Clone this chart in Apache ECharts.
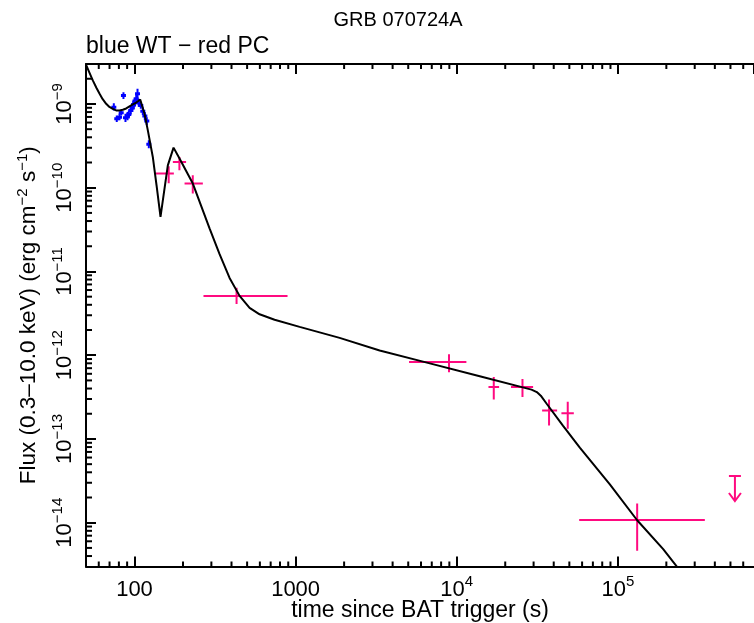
<!DOCTYPE html>
<html>
<head>
<meta charset="utf-8">
<script src="https://cdn.jsdelivr.net/npm/echarts@6/dist/echarts.min.js"></script>
<style>
  html, body { margin: 0; padding: 0; background: #fff; }
  #chart { width: 754px; height: 623px; }
</style>
</head>
<body>
<div id="chart"></div>
<script>
// WT mode points (blue): time (s), flux and its error range (erg cm^-2 s^-1)
const wtTime = [74.4, 77.6, 80.7, 82.7, 85.4, 87.9, 90.5, 92.2, 94.8, 96.8, 98.6, 100.4, 102.5, 104.4, 106.3, 109.4, 112.6, 115.9, 119.2, 122.7];
const wtFlux = [9.16e-10, 6.67e-10, 6.96e-10, 7.86e-10, 1.26e-9, 6.86e-10, 7.16e-10, 7.50e-10, 8.37e-10, 9.01e-10, 9.86e-10, 1.05e-9, 1.15e-9, 1.32e-9, 1.03e-9, 9.60e-10, 8.21e-10, 7.16e-10, 6.24e-10, 3.30e-10];
const wtFluxLo = [8.37e-10, 6.07e-10, 6.37e-10, 7.30e-10, 1.15e-9, 6.07e-10, 6.41e-10, 6.72e-10, 7.50e-10, 8.07e-10, 8.60e-10, 9.26e-10, 1.02e-9, 1.15e-9, 9.26e-10, 8.77e-10, 7.36e-10, 6.41e-10, 5.60e-10, 2.95e-10];
const wtFluxHi = [1.02e-9, 7.30e-10, 7.64e-10, 8.37e-10, 1.38e-9, 7.64e-10, 7.99e-10, 8.37e-10, 9.34e-10, 1.005e-9, 1.13e-9, 1.195e-9, 1.30e-9, 1.52e-9, 1.15e-9, 1.05e-9, 9.16e-10, 7.99e-10, 6.96e-10, 3.68e-10];

// PC mode points (magenta)
const pcTime = [163, 190, 230, 430, 8954, 16980, 25590, 37410, 48870, 131800];
const pcTimeLo = [135, 173, 204.5, 268, 5058, 15740, 21720, 33880, 44650, 57540];
const pcTimeHi = [175.5, 209, 265.6, 891, 11480, 18320, 29790, 41980, 53300, 346700];
const pcFlux = [1.48e-10, 2.03e-10, 1.12e-10, 5.1e-12, 8.30e-13, 4.18e-13, 4.18e-13, 2.18e-13, 2.03e-13, 1.076e-14];
const pcFluxLo = [1.13e-10, 1.62e-10, 8.53e-11, 4.1e-12, 6.24e-13, 2.95e-13, 3.18e-13, 1.45e-13, 1.32e-13, 4.61e-15];
const pcFluxHi = [1.80e-10, 2.33e-10, 1.41e-10, 6.37e-12, 1.03e-12, 5.5e-13, 5.21e-13, 2.95e-13, 2.79e-13, 1.69e-14];

// PC upper limit
const ulTime = [533000];
const ulFlux = [3.61e-14];

// model curve
const modelTime = [50.0, 52.5, 55.1, 58.1, 60.6, 63.3, 66.7, 69.9, 73.3, 76.9, 80.7, 84.6, 88.8, 93.1, 97.6, 102.5, 108.5, 115.4, 121.0, 129.9, 137.0, 145.0, 161.0, 174.7, 190.3, 230.2, 292.3, 337.3, 389.1, 449.0, 518.0, 597.6, 740.6, 1058.9, 1876, 3324, 6176, 13900, 29110, 31410, 33240, 36070, 45740, 58070, 89200, 131800, 191200, 323000];
const modelFlux = [2.95e-9, 2.37e-9, 1.91e-9, 1.55e-9, 1.33e-9, 1.15e-9, 1.005e-9, 9.21e-10, 8.72e-10, 8.37e-10, 8.37e-10, 8.53e-10, 8.84e-10, 9.34e-10, 9.86e-10, 1.04e-9, 1.13e-9, 7.64e-10, 4.84e-10, 2.33e-10, 1.07e-10, 4.49e-11, 1.85e-10, 3.01e-10, 2.23e-10, 1.12e-10, 3.27e-11, 1.61e-11, 8.37e-12, 5.11e-12, 3.68e-12, 3.08e-12, 2.65e-12, 2.18e-12, 1.61e-12, 1.14e-12, 8.39e-13, 5.61e-13, 3.88e-13, 3.63e-13, 3.29e-13, 2.65e-13, 1.43e-13, 7.86e-14, 2.87e-14, 1.07e-14, 4.84e-15, 1.33e-15];

// axes
const xMin = 50, xMax = 7e5;
const yMin = 3e-15, yMax = 3e-9;
const xTickValues = [100, 1000, 1e4, 1e5];
const xTickText = ['{b|100}', '{b|1000}', '{b|10}{s|4}', '{b|10}{s|5}'];
const yTickValues = [1e-14, 1e-13, 1e-12, 1e-11, 1e-10, 1e-9];
const yTickText = ['{b|10}{s|−14}', '{b|10}{s|−13}', '{b|10}{s|−12}', '{b|10}{s|−11}', '{b|10}{s|−10}', '{b|10}{s|−9}'];
const xMinorTicks = [60, 70, 80, 90, 200, 300, 400, 500, 600, 700, 800, 900, 2000, 3000, 4000, 5000, 6000, 7000, 8000, 9000,
  2e4, 3e4, 4e4, 5e4, 6e4, 7e4, 8e4, 9e4, 2e5, 3e5, 4e5, 5e5, 6e5];
const yMinorTicks = [4e-15, 5e-15, 6e-15, 7e-15, 8e-15, 9e-15, 2e-14, 3e-14, 4e-14, 5e-14, 6e-14, 7e-14, 8e-14, 9e-14,
  2e-13, 3e-13, 4e-13, 5e-13, 6e-13, 7e-13, 8e-13, 9e-13, 2e-12, 3e-12, 4e-12, 5e-12, 6e-12, 7e-12, 8e-12, 9e-12,
  2e-11, 3e-11, 4e-11, 5e-11, 6e-11, 7e-11, 8e-11, 9e-11, 2e-10, 3e-10, 4e-10, 5e-10, 6e-10, 7e-10, 8e-10, 9e-10, 2e-9];

const FONT = '"Liberation Sans", Arial, Helvetica, sans-serif';
const PINK = '#ff0a80';
const BLUE = '#0000ff';

const rich = {
  b: { fontSize: 22, fontFamily: FONT, color: '#000', lineHeight: 26, verticalAlign: 'bottom' },
  s: { fontSize: 15, fontFamily: FONT, color: '#000', lineHeight: 15, verticalAlign: 'top' }
};
const pickLabel = (values, texts) => v => {
  const i = values.findIndex(t => Math.abs(Math.log10(v) - Math.log10(t)) < 1e-6);
  return i < 0 ? '' : texts[i];
};

const chart = echarts.init(document.getElementById('chart'));

function minorX(params, api) {
  const cs = params.coordSys;
  const x = api.coord([api.value(0), 1e-12])[0];
  const bottom = cs.y + cs.height, top = cs.y;
  return { type: 'group', children: [
    { type: 'line', shape: { x1: x, y1: bottom, x2: x, y2: bottom - 5 }, style: { stroke: '#000', lineWidth: 2 } },
    { type: 'line', shape: { x1: x, y1: top, x2: x, y2: top + 5 }, style: { stroke: '#000', lineWidth: 2 } }
  ] };
}
function minorY(params, api) {
  const cs = params.coordSys;
  const y = api.coord([1000, api.value(1)])[1];
  return { type: 'line', shape: { x1: cs.x, y1: y, x2: cs.x + 6, y2: y }, style: { stroke: '#000', lineWidth: 2 } };
}
function pcCross(params, api) {
  const c = api.coord([api.value(0), api.value(3)]);
  const l = api.coord([api.value(1), api.value(3)]);
  const r = api.coord([api.value(2), api.value(3)]);
  const lo = api.coord([api.value(0), api.value(4)]);
  const hi = api.coord([api.value(0), api.value(5)]);
  const st = { stroke: PINK, lineWidth: 2 };
  return { type: 'group', children: [
    { type: 'line', shape: { x1: l[0], y1: c[1], x2: r[0], y2: c[1] }, style: st },
    { type: 'line', shape: { x1: c[0], y1: hi[1], x2: c[0], y2: lo[1] }, style: st }
  ] };
}
function wtPoint(params, api) {
  const c = api.coord([api.value(0), api.value(1)]);
  const lo = api.coord([api.value(0), api.value(2)]);
  const hi = api.coord([api.value(0), api.value(3)]);
  return { type: 'group', children: [
    { type: 'line', shape: { x1: c[0], y1: hi[1], x2: c[0], y2: lo[1] }, style: { stroke: BLUE, lineWidth: 2 } },
    { type: 'line', shape: { x1: c[0] - 2.5, y1: c[1], x2: c[0] + 2.5, y2: c[1] }, style: { stroke: BLUE, lineWidth: 3 } }
  ] };
}
function upperLimit(params, api) {
  const c = api.coord([api.value(0), api.value(1)]);
  const st = { stroke: PINK, lineWidth: 2 };
  return { type: 'group', children: [
    { type: 'line', shape: { x1: c[0] - 6, y1: c[1], x2: c[0] + 6, y2: c[1] }, style: st },
    { type: 'line', shape: { x1: c[0], y1: c[1], x2: c[0], y2: c[1] + 25 }, style: st },
    { type: 'polyline', shape: { points: [[c[0] - 6, c[1] + 17], [c[0], c[1] + 25], [c[0] + 6, c[1] + 17]] }, style: { stroke: PINK, lineWidth: 2, fill: null } }
  ] };
}

const axisLine = { show: true, lineStyle: { color: '#000', width: 2 } };
const majorTick = { show: true, inside: true, length: 10, lineStyle: { color: '#000', width: 2 } };

chart.setOption({
  animation: false,
  backgroundColor: '#fff',
  grid: { left: 86, top: 64, width: 668, height: 502.5, outerBoundsMode: 'none', containLabel: false },
  graphic: [
    { type: 'text', x: 398, y: 20, style: { text: 'GRB 070724A', font: '20px ' + FONT, fill: '#000', align: 'center', verticalAlign: 'middle', textAlign: 'center', textVerticalAlign: 'middle' } },
    { type: 'text', x: 86, y: 47, style: { text: 'blue WT − red PC', font: '23px ' + FONT, fill: '#000', align: 'left', verticalAlign: 'middle', textAlign: 'left', textVerticalAlign: 'middle' } }
  ],
  xAxis: [
    {
      type: 'log', logBase: 10, min: xMin, max: xMax, position: 'bottom',
      name: 'time since BAT trigger (s)', nameLocation: 'middle', nameGap: 33, nameMoveOverlap: false,
      nameTextStyle: { fontSize: 23, fontFamily: FONT, color: '#000' },
      axisLine, axisTick: majorTick, splitLine: { show: false },
      axisLabel: { margin: 8, formatter: pickLabel(xTickValues, xTickText), rich, showMinLabel: false, showMaxLabel: false }
    },
    {
      type: 'log', logBase: 10, min: xMin, max: xMax, position: 'top',
      axisLine, axisTick: majorTick, splitLine: { show: false }, axisLabel: { show: false }
    }
  ],
  yAxis: {
    type: 'log', logBase: 10, min: yMin, max: yMax,
    name: '{a|Flux (0.3–10.0 keV) (erg cm}{s|−2}{a| s}{s|−1}{a|)}', nameLocation: 'middle', nameGap: 46, nameRotate: 90,
    nameTextStyle: { rich: {
      a: { fontSize: 22.5, fontFamily: FONT, color: '#000', lineHeight: 25, verticalAlign: 'bottom' },
      s: { fontSize: 15, fontFamily: FONT, color: '#000', lineHeight: 15, verticalAlign: 'top' }
    } },
    axisLine, axisTick: majorTick, splitLine: { show: false },
    axisLabel: { rotate: 90, margin: 10, formatter: pickLabel(yTickValues, yTickText), rich, showMinLabel: false, showMaxLabel: false }
  },
  series: [
    { type: 'custom', renderItem: minorX, data: xMinorTicks.map(v => [v, 1e-12]), silent: true, clip: false, z: 1 },
    { type: 'custom', renderItem: minorY, data: yMinorTicks.map(v => [1000, v]), silent: true, clip: false, z: 1 },
    { type: 'custom', renderItem: wtPoint, data: wtTime.map((t, i) => [t, wtFlux[i], wtFluxLo[i], wtFluxHi[i]]), encode: { x: 0, y: 1 }, clip: true, z: 2 },
    { type: 'custom', renderItem: pcCross, data: pcTime.map((t, i) => [t, pcTimeLo[i], pcTimeHi[i], pcFlux[i], pcFluxLo[i], pcFluxHi[i]]), encode: { x: 0, y: 3 }, clip: true, z: 2 },
    { type: 'custom', renderItem: upperLimit, data: ulTime.map((t, i) => [t, ulFlux[i]]), encode: { x: 0, y: 1 }, clip: true, z: 2 },
    { type: 'line', data: modelTime.map((t, i) => [t, modelFlux[i]]), showSymbol: false, clip: true,
      lineStyle: { color: '#000', width: 2 }, z: 3 }
  ]
});
</script>
</body>
</html>
